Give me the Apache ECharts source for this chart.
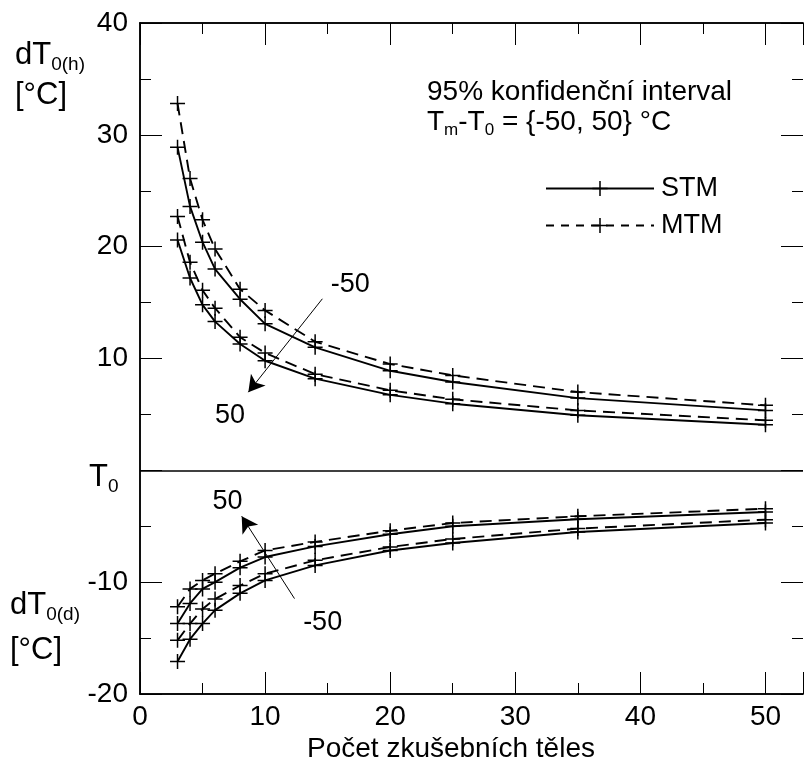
<!DOCTYPE html>
<html>
<head>
<meta charset="utf-8">
<script src="https://cdn.jsdelivr.net/npm/echarts@6/dist/echarts.min.js"></script>
<style>
html,body{margin:0;padding:0;background:#fff;}
#chart{width:806px;height:767px;}
</style>
</head>
<body>
<div id="chart"></div>
<script>
// ---- data ----
const N = [3, 4, 5, 6, 8, 10, 14, 20, 25, 35, 50];
// dT0(h), Tm-T0 = -50 (upper pair)
const stmH_m50 = [28.9, 23.6, 20.4, 18.0, 15.3, 13.1, 11.0, 8.9, 7.9, 6.46, 5.36];
const mtmH_m50 = [32.8, 26.1, 22.4, 19.8, 16.2, 14.3, 11.5, 9.5, 8.49, 7.0, 5.81];
// dT0(h), Tm-T0 = 50 (lower pair)
const mtmH_50 = [22.7, 18.6, 16.1, 14.5, 11.9, 10.5, 8.6, 7.15, 6.35, 5.36, 4.47];
const stmH_50 = [20.6, 17.2, 14.8, 13.3, 11.3, 9.8, 8.2, 6.75, 5.96, 4.92, 4.08];
// dT0(d), Tm-T0 = 50 (upper pair)
const mtmD_50 = [-12.2, -10.6, -9.84, -9.24, -8.14, -7.16, -6.4, -5.4, -4.71, -4.11, -3.43];
const stmD_50 = [-13.7, -11.9, -10.6, -10.0, -8.7, -7.75, -6.8, -5.72, -5.0, -4.38, -3.72];
// dT0(d), Tm-T0 = -50 (lower pair)
const mtmD_m50 = [-15.2, -13.7, -12.4, -11.5, -10.3, -9.24, -8.05, -6.85, -6.14, -5.21, -4.41];
const stmD_m50 = [-17.1, -15.1, -13.7, -12.5, -11.0, -9.84, -8.5, -7.17, -6.5, -5.51, -4.71];

const xTicks = [0, 10, 20, 30, 40, 50];
const yTicks = [40, 30, 20, 10, -10, -20];

// annotation arrows (data coords)
const arrowTop = [[14.58, 15.34], [8.66, 6.99]];
const arrowBottom = [[12.35, -11.47], [8.13, -4.11]];
const annLabels = [
  {text: '-50', at: [16.8, 16.6]},
  {text: '50', at: [7.2, 4.9]},
  {text: '50', at: [7.0, -2.8]},
  {text: '-50', at: [14.6, -13.6]}
];

// ---- chart ----
const FONT = '"Liberation Sans", Arial, sans-serif';
const plus = 'path://M-0.1,-1L0.1,-1L0.1,-0.1L1,-0.1L1,0.1L0.1,0.1L0.1,1L-0.1,1L-0.1,0.1L-1,0.1L-1,-0.1L-0.1,-0.1Z';
const pairs = v => N.map((n, i) => [n, v[i]]);

function mkSeries(name, vals, dashed, extra) {
  return Object.assign({
    type: 'line', name: name, data: pairs(vals),
    xAxisIndex: 0, yAxisIndex: 0,
    symbol: plus, symbolSize: 15, showSymbol: true,
    itemStyle: {color: '#000'},
    lineStyle: {color: '#000', width: 1.9, type: dashed ? [12, 7] : 'solid'},
    animation: false, silent: true, z: 3
  }, extra || {});
}

const tickStyle = {color: '#000', width: 1};
function xAx(pos, len, interval, labels) {
  return {
    type: 'value', position: pos, min: 0, max: 53, interval: interval,
    axisLine: {show: true, onZero: false, lineStyle: {color: '#000', width: 1.5}},
    axisTick: {show: true, inside: true, length: len, lineStyle: tickStyle},
    axisLabel: labels ? {show: true, margin: 9, color: '#000', fontSize: 28, fontFamily: FONT,
      formatter: v => (xTicks.indexOf(v) >= 0 ? String(v) : '')} : {show: false},
    splitLine: {show: false}
  };
}
function yAx(pos, len, interval, labels, showLine) {
  return {
    type: 'value', position: pos, min: -20, max: 40, interval: interval,
    axisLine: {show: showLine, onZero: false, lineStyle: {color: '#000', width: 1.5}},
    axisTick: {show: true, inside: true, length: len, lineStyle: tickStyle},
    axisLabel: labels ? {show: true, margin: 12, color: '#000', fontSize: 28, fontFamily: FONT,
      formatter: v => (yTicks.indexOf(v) >= 0 ? String(v) : '')} : {show: false},
    splitLine: {show: false}
  };
}

const chart = echarts.init(document.getElementById('chart'), null, {renderer: 'canvas'});
const sub = (big, small) => ({
  a: {fontSize: big, fontFamily: FONT, fill: '#000'},
  b: {fontSize: small, fontFamily: FONT, fill: '#000', padding: [Math.round(small), 0, 0, 0]}
});
const option = {
  backgroundColor: '#fff',
  animation: false,
  textStyle: {fontFamily: FONT, color: '#000'},
  grid: {left: 140, top: 23, width: 671, height: 671, containLabel: false},
  xAxis: [
    xAx('bottom', 22, 10, true),
    xAx('bottom', 11, 5, false),
    xAx('top', 22, 10, false),
    xAx('top', 11, 5, false)
  ],
  yAxis: [
    yAx('left', 22, 10, true, true),
    yAx('left', 11, 5, false, true),
    yAx('right', 22, 10, false, false),
    yAx('right', 11, 5, false, false)
  ],
  legend: {
    show: true, orient: 'vertical', left: 540, top: 170,
    itemWidth: 108, itemHeight: 19, itemGap: 10,
    textStyle: {color: '#000', fontSize: 27, fontFamily: FONT, padding: [0, 0, 0, 2]},
    data: [
      {name: 'STM'},
      {name: 'MTM', lineStyle: {type: [8, 7], width: 1.9}}
    ],
    selectedMode: false
  },
  series: [
    mkSeries('STM', stmH_m50, false, {
      markLine: {
        silent: true, animation: false, symbol: ['none', 'none'],
        label: {show: false},
        lineStyle: {color: '#000', width: 1.5, type: 'solid'},
        data: [{yAxis: 0}]
      }
    }),
    mkSeries('MTM', mtmH_m50, true, {
      markLine: {
        silent: true, animation: false, symbol: ['none', 'arrow'], symbolSize: [14, 16],
        label: {show: false},
        lineStyle: {color: '#000', width: 1, type: 'solid'},
        data: [
          [{coord: arrowTop[0]}, {coord: arrowTop[1]}],
          [{coord: arrowBottom[0]}, {coord: arrowBottom[1]}]
        ]
      }
    }),
    mkSeries('MTM', mtmH_50, true, {
      markPoint: {
        silent: true, animation: false, symbol: 'circle', symbolSize: 0,
        label: {show: true, position: 'inside', color: '#000', fontSize: 27, fontFamily: FONT,
          formatter: p => p.name},
        data: annLabels.map(a => ({name: a.text, coord: a.at}))
      }
    }),
    mkSeries('STM', stmH_50, false),
    mkSeries('MTM', mtmD_50, true),
    mkSeries('STM', stmD_50, false),
    mkSeries('MTM', mtmD_m50, true),
    mkSeries('STM', stmD_m50, false)
  ],
  graphic: [
    {type: 'text', left: 15, top: 40, style: {
      text: '{a|dT}{b|0(h)}', fill: '#000', font: '31px ' + FONT, rich: sub(31, 19)}},
    {type: 'text', left: 15, top: 80, style: {text: '[°C]', fill: '#000', font: '31px ' + FONT}},
    {type: 'text', left: 89, top: 462, style: {
      text: '{a|T}{b|0}', fill: '#000', font: '31px ' + FONT, rich: sub(31, 19)}},
    {type: 'text', left: 10, top: 590, style: {
      text: '{a|dT}{b|0(d)}', fill: '#000', font: '31px ' + FONT, rich: sub(31, 19)}},
    {type: 'text', left: 10, top: 635, style: {text: '[°C]', fill: '#000', font: '31px ' + FONT}},
    {type: 'text', left: 427, top: 78, style: {text: '95% konfidenční interval', fill: '#000', font: '28px ' + FONT}},
    {type: 'text', left: 427, top: 108, style: {
      text: '{a|T}{b|m}{a|-T}{b|0} = {-50, 50} °C', fill: '#000', font: '28px ' + FONT, rich: sub(28, 17)}},
    {type: 'text', x: 451, y: 735, style: {
      text: 'Počet zkušebních těles', fill: '#000', font: '28px ' + FONT, align: 'center'}}
  ]
};
chart.setOption(option);
</script>
</body>
</html>
